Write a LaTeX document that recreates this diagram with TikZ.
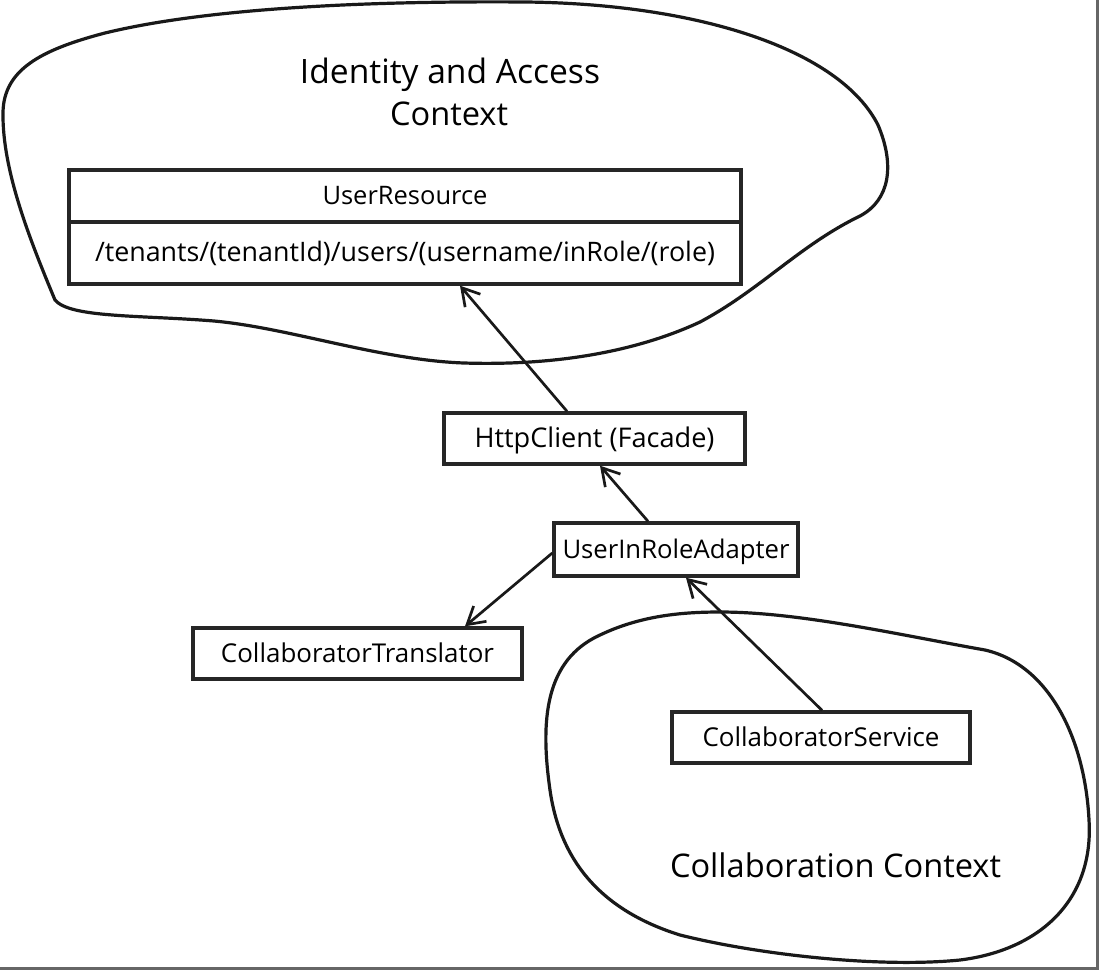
\documentclass[tikz,border=0pt]{standalone}
\usepackage{fontspec}
\setmainfont{Open Sans}
\usetikzlibrary{arrows.meta}
\newcommand{\fitw}[2]{\resizebox{#1}{!}{#2}}
\begin{document}
\begin{tikzpicture}[x=1pt,y=-1pt,
  box/.style={draw=black!85, line width=3.4pt, inner sep=0pt, minimum height=51pt,
              text height=17pt, text depth=0pt, font=\fontsize{24}{28}\selectfont},
  blob/.style={draw=black!90, line width=3.2pt},
  link/.style={draw=black!90, line width=2.7pt,
               -{Straight Barb[length=17pt,width=20pt,line width=2.7pt]}},
  ctxtitle/.style={inner sep=0pt, anchor=base, font=\fontsize{28}{32}\selectfont},
  framerule/.style={draw=black!60, line width=3pt}]
\useasboundingbox (0,0) rectangle (1100,970);

% frame (right and bottom edges)
\coordinate (frTR) at (1097.5,0);
\coordinate (frBR) at (1097.5,968);
\coordinate (frBL) at (0,968);
\draw[framerule] (frTR) -- (frBR) -- (frBL);

% Identity and Access context blob
\draw[blob] (55,300) .. controls (30,240) and (2,170) .. (3,112)
  .. controls (4,70) and (40,50) .. (105,33)
  .. controls (220,5) and (400,1) .. (526,2)
  .. controls (700,4) and (840,50) .. (878,125)
  .. controls (895,165) and (890,200) .. (860,216)
  .. controls (800,245) and (760,290) .. (700,322)
  .. controls (640,350) and (560,366) .. (464,363)
  .. controls (380,360) and (290,328) .. (214,321)
  .. controls (140,315) and (70,318) .. (55,300) -- cycle;

% Collaboration context blob
\draw[blob] (720,612) .. controls (800,612) and (900,635) .. (985,650)
  .. controls (1050,665) and (1085,740) .. (1089,820)
  .. controls (1094,900) and (1040,950) .. (960,960)
  .. controls (880,968) and (760,955) .. (680,935)
  .. controls (600,910) and (560,860) .. (550,790)
  .. controls (540,720) and (545,660) .. (600,635)
  .. controls (640,616) and (680,612) .. (720,612) -- cycle;

% titles
\node[ctxtitle] (t1) at (450,83) {\fitw{300pt}{Identity and Access}};
\node[ctxtitle] (t2) at (449,125) {\fitw{118pt}{Context}};
\node[ctxtitle] (t3) at (835.5,877) {\fitw{331pt}{Collaboration Context}};

% boxes
\node[box, minimum width=672pt, minimum height=52pt] (urtitle) at (405,196)
  {\fitw{165pt}{UserResource}};
\node[box, minimum width=672pt, minimum height=62pt] (urpath) at (405,253)
  {\fitw{620pt}{/tenants/(tenantId)/users/(username/inRole/(role)}};
\node[box, minimum width=301pt] (http) at (594.5,438.5)
  {\fitw{240pt}{HttpClient (Facade)}};
\node[box, minimum width=244pt, minimum height=53pt] (uira) at (676,549.5)
  {\fitw{227pt}{UserInRoleAdapter}};
\node[box, minimum width=329pt] (ct) at (357.5,653.5)
  {\fitw{273pt}{CollaboratorTranslator}};
\node[box, minimum width=298pt] (cs) at (821,737.5)
  {\fitw{237pt}{CollaboratorService}};

% connectors
\draw[link] ([xshift=-27.5pt]http.north) -- ([xshift=55pt]urpath.south);
\draw[link] ([xshift=-28pt]uira.north) -- ([xshift=5.5pt]http.south);
\draw[link] ([yshift=-3.5pt]uira.west) -- ([xshift=107.5pt]ct.north);
\draw[link] ([xshift=1pt]cs.north) -- ([xshift=10pt]uira.south);
\end{tikzpicture}
\end{document}
